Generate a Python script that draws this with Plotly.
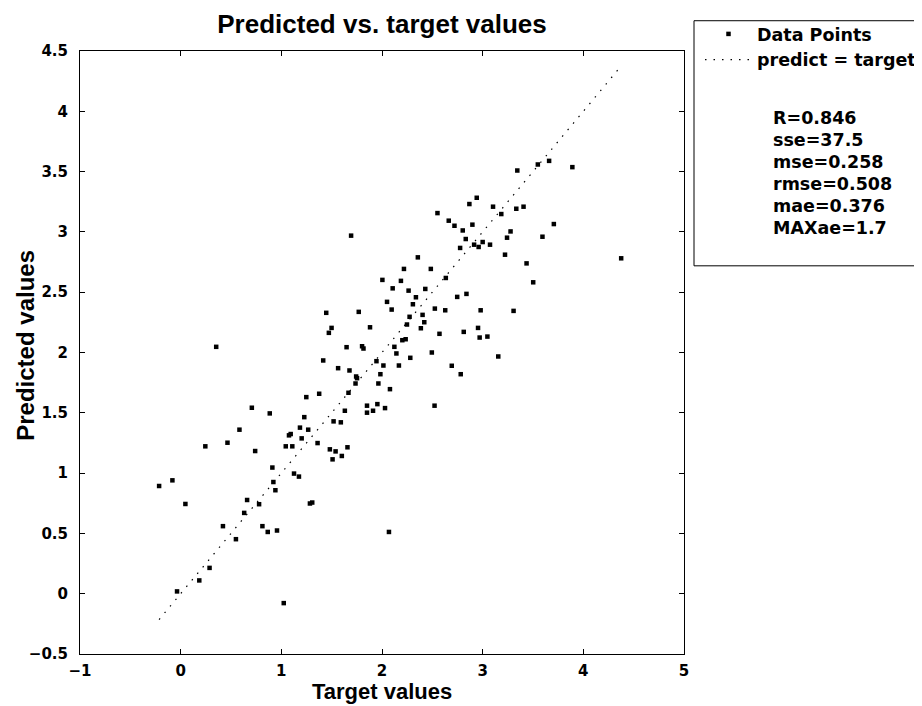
import plotly.graph_objects as go

# Target (x) and predicted (y) values
target = [0.707, 0.885, 1.228, 0.584, 1.185, 1.267, 1.519, 0.245, 0.465, 0.740,
          1.076, 1.093, 1.202, 1.044, 1.109, 1.360, 1.482, 1.539, 1.509, 0.911,
          1.126, 1.175, -0.082, -0.214, 0.921, 0.941, 0.047, 0.660, 0.779, 1.284,
          1.307, 0.631, 0.420, 0.812, 0.865, 0.957, 0.549, 0.287, 0.185, -0.036,
          1.024, 2.356, 2.218, 2.485, 2.004, 2.188, 2.634, 2.106, 2.264, 2.430,
          2.337, 2.747, 2.050, 2.307, 2.096, 2.525, 2.628, 1.446, 1.769, 2.403,
          2.274, 2.420, 2.248, 2.386, 1.499, 1.472, 1.881, 2.571, 2.202, 2.235,
          1.648, 1.802, 1.816, 2.123, 2.143, 2.495, 2.281, 1.416, 1.945, 2.014,
          2.168, 2.693, 1.564, 1.677, 1.984, 1.743, 1.752, 1.964, 1.737, 2.079,
          1.667, 1.376, 1.248, 1.851, 1.954, 2.030, 1.911, 1.851, 2.522, 1.631,
          1.591, 1.657, 1.601, 3.660, 3.548, 3.344, 3.891, 2.941, 2.868, 3.103,
          3.334, 3.406, 2.551, 3.185, 2.663, 2.720, 2.898, 2.802, 3.277, 3.707,
          2.832, 3.242, 3.594, 3.000, 2.915, 2.960, 3.073, 2.776, 4.376, 3.222,
          3.436, 3.502, 2.839, 2.980, 3.307, 2.812, 2.954, 2.970, 3.047, 3.155,
          2.782, 1.693, 0.353, 2.069]

predicted = [1.542, 1.495, 1.464, 1.360, 1.377, 1.360, 1.429, 1.222, 1.252, 1.183,
             1.313, 1.324, 1.288, 1.222, 1.222, 1.249, 1.197, 1.180, 1.114, 1.046,
             0.996, 0.971, 0.940, 0.893, 0.926, 0.858, 0.744, 0.777, 0.742, 0.748,
             0.756, 0.670, 0.560, 0.560, 0.512, 0.524, 0.452, 0.214, 0.110, 0.019,
             -0.078, 2.789, 2.693, 2.693, 2.602, 2.594, 2.618, 2.532, 2.513, 2.527,
             2.458, 2.461, 2.420, 2.400, 2.356, 2.364, 2.350, 2.329, 2.337, 2.312,
             2.296, 2.251, 2.232, 2.201, 2.204, 2.163, 2.209, 2.155, 2.102, 2.110,
             2.044, 2.052, 2.033, 2.047, 1.992, 2.000, 1.956, 1.934, 1.928, 1.892,
             1.892, 1.890, 1.870, 1.851, 1.820, 1.801, 1.787, 1.743, 1.743, 1.696,
             1.666, 1.658, 1.630, 1.559, 1.572, 1.539, 1.517, 1.501, 1.559, 1.517,
             1.421, 1.214, 1.142, 3.589, 3.559, 3.509, 3.537, 3.283, 3.231, 3.209,
             3.192, 3.209, 3.156, 3.148, 3.093, 3.051, 3.060, 3.012, 3.004, 3.065,
             2.941, 2.952, 2.960, 2.916, 2.894, 2.875, 2.894, 2.867, 2.781, 2.811,
             2.739, 2.582, 2.486, 2.350, 2.345, 2.171, 2.204, 2.124, 2.132, 1.967,
             1.820, 2.969, 2.047, 0.512]

stats_lines = ["R=0.846", "sse=37.5", "mse=0.258", "rmse=0.508", "mae=0.376", "MAXae=1.7"]

x_ticks = [-1, 0, 1, 2, 3, 4, 5]
x_tick_labels = ["\u22121", "0", "1", "2", "3", "4", "5"]
y_ticks = [-0.5, 0, 0.5, 1, 1.5, 2, 2.5, 3, 3.5, 4, 4.5]
y_tick_labels = ["\u22120.5", "0", "0.5", "1", "1.5", "2", "2.5", "3", "3.5", "4", "4.5"]

TICK_FONT = "DejaVu Sans"
LEG_FONT = "DejaVu Sans"
TITLE_FONT = "Liberation Sans, Arial, sans-serif"

# The page body has an 8px margin, so the figure is drawn 8px smaller
# and all window-pixel positions below are shifted by that offset.
OFF = 8
WIN_W, WIN_H = 922, 706
W, H = WIN_W - OFF, WIN_H - OFF
PL, PR, PT, PB = 80, 684, 51, 654.5   # plot area in window pixels


def px(xp):
    return (xp - PL) / (PR - PL)


def py(yp):
    return (PB - yp) / (PB - PT)


line_x = [min(target), max(target)]

fig = go.Figure()
fig.add_trace(go.Scatter(
    x=target, y=predicted, mode="markers", name="Data Points",
    marker=dict(symbol="square", size=4.5, color="black", line=dict(width=0)),
))
fig.add_trace(go.Scatter(
    x=line_x, y=line_x, mode="lines", name="predict = target",
    line=dict(color="black", width=1.2, dash="1.5px,7px"),
))

axis_common = dict(
    showgrid=False, zeroline=False, showline=True, linecolor="black", linewidth=1,
    mirror="ticks", ticks="inside", ticklen=5, tickcolor="black", tickwidth=1,
    automargin=False,
    tickfont=dict(family=TICK_FONT, size=15, color="black", weight="bold"),
)

annotations = [
    dict(text="Target values", xref="paper", yref="paper", x=0.5, y=py(692.5),
         xanchor="center", yanchor="middle", showarrow=False, borderpad=0,
         font=dict(family=TITLE_FONT, size=22, color="black", weight="bold")),
    dict(text="Predicted values", xref="paper", yref="paper", x=px(26), y=py(346),
         xanchor="center", yanchor="middle", showarrow=False, textangle=-90,
         font=dict(family=TITLE_FONT, size=24, color="black", weight="bold")),
]
for i, s in enumerate(stats_lines):
    annotations.append(dict(
        text=s, xref="paper", yref="paper", x=px(771), y=py(118 + 22 * i),
        xanchor="left", yanchor="middle", showarrow=False,
        font=dict(family=LEG_FONT, size=17.5, color="black", weight="bold")))

fig.update_layout(
    width=W, height=H,
    margin=dict(l=PL - OFF, r=WIN_W - PR, t=PT - OFF, b=WIN_H - PB, autoexpand=False),
    paper_bgcolor="white", plot_bgcolor="white",
    title=dict(text="Predicted vs. target values", x=0.5, xref="paper",
               y=1 - (23.5 - OFF) / H, yref="container", yanchor="middle",
               font=dict(family=TITLE_FONT, size=26, color="black", weight="bold")),
    xaxis=dict(range=[-1, 5], tickvals=x_ticks, ticktext=x_tick_labels,
               ticklabelstandoff=3, **axis_common),
    yaxis=dict(range=[-0.5, 4.5], tickvals=y_ticks, ticktext=y_tick_labels,
               ticklabelstandoff=8, **axis_common),
    showlegend=True,
    legend=dict(x=px(700), y=py(16), xanchor="left", yanchor="top",
                bgcolor="rgba(0,0,0,0)", borderwidth=0, itemwidth=47,
                tracegroupgap=0,
                font=dict(family=LEG_FONT, size=17.5, color="black", weight="bold")),
    shapes=[dict(type="rect", xref="paper", yref="paper",
                 x0=px(694), x1=px(919.5), y0=py(266), y1=py(20.7),
                 line=dict(color="black", width=1), fillcolor="rgba(0,0,0,0)")],
    annotations=annotations,
)

fig.write_html("out.html")
